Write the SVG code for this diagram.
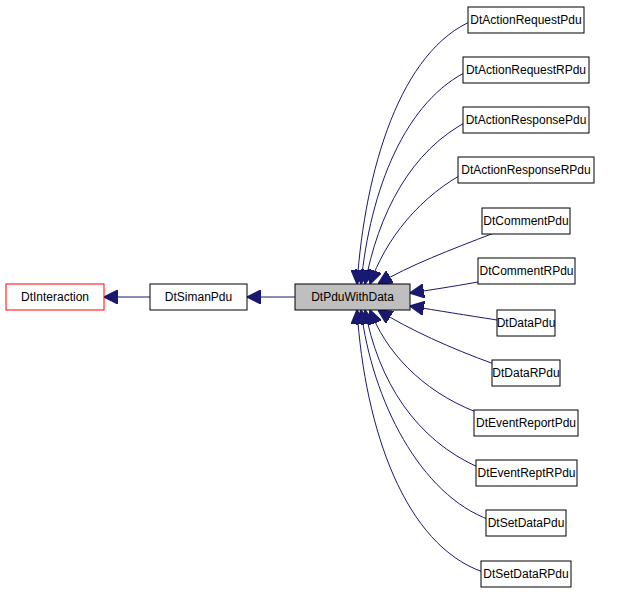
<svg xmlns="http://www.w3.org/2000/svg" width="629" height="595" viewBox="0 0 629 595">
<defs>
<style>
.n rect{fill:#fff;stroke:#000;stroke-width:1}
text{font-family:"Liberation Sans",Arial,sans-serif;font-size:12px;text-anchor:middle}
.e path{fill:none;stroke:#191970;stroke-width:1}
</style>
<marker id="a" viewBox="0 0 10 10" refX="10" refY="5" markerWidth="14" markerHeight="14" markerUnits="userSpaceOnUse" orient="auto"><path d="M0,0L10,5L0,10z" fill="#191970" stroke="#191970"/></marker>
</defs>
<rect width="629" height="595" fill="#fff"/>
<g class="e" marker-end="url(#a)">
<path d="M150,297H104" marker-end="url(#a)"/>
<path d="M295,297H247" marker-end="url(#a)"/>
<path d="M474,20C400,50 365,170 357,284" marker-end="url(#a)"/>
<path d="M470,70C405,100 370,190 361,284" marker-end="url(#a)"/>
<path d="M470,120C410,150 378,215 365,284" marker-end="url(#a)"/>
<path d="M470,170C420,195 385,240 370,284" marker-end="url(#a)"/>
<path d="M494,233C450,250 410,265 378,284" marker-end="url(#a)"/>
<path d="M478,282C450,287 430,290 410,293" marker-end="url(#a)"/>
<path d="M497,320C465,315 440,311 410,306" marker-end="url(#a)"/>
<path d="M494,364C450,348 410,330 378,310" marker-end="url(#a)"/>
<path d="M476,412C420,390 385,350 370,310" marker-end="url(#a)"/>
<path d="M480,468C415,440 378,380 365,310" marker-end="url(#a)"/>
<path d="M490,520C420,495 372,400 361,310" marker-end="url(#a)"/>
<path d="M483,572C405,545 365,430 357,310" marker-end="url(#a)"/>
</g>
<g id="DtInteraction" class="n"><rect x="6" y="284" width="98" height="26" style="stroke:#f00"/><text x="55" y="301">DtInteraction</text></g>
<g id="DtSimanPdu" class="n"><rect x="150" y="284" width="97" height="26"/><text x="198.5" y="301">DtSimanPdu</text></g>
<g id="DtPduWithData" class="n"><rect x="295" y="284" width="115" height="26" style="fill:#bfbfbf"/><text x="352.5" y="301">DtPduWithData</text></g>
<g id="DtActionRequestPdu" class="n"><rect x="468" y="7" width="116" height="26"/><text x="526" y="24">DtActionRequestPdu</text></g>
<g id="DtActionRequestRPdu" class="n"><rect x="463" y="57" width="126" height="26"/><text x="526" y="74">DtActionRequestRPdu</text></g>
<g id="DtActionResponsePdu" class="n"><rect x="463" y="107" width="126" height="26"/><text x="526" y="124">DtActionResponsePdu</text></g>
<g id="DtActionResponseRPdu" class="n"><rect x="458" y="157" width="136" height="26"/><text x="526" y="174">DtActionResponseRPdu</text></g>
<g id="DtCommentPdu" class="n"><rect x="482" y="208" width="88" height="26"/><text x="526" y="225">DtCommentPdu</text></g>
<g id="DtCommentRPdu" class="n"><rect x="478" y="258" width="97" height="26"/><text x="526.5" y="275">DtCommentRPdu</text></g>
<g id="DtDataPdu" class="n"><rect x="497" y="310" width="58" height="26"/><text x="526" y="327">DtDataPdu</text></g>
<g id="DtDataRPdu" class="n"><rect x="492" y="360" width="68" height="26"/><text x="526" y="377">DtDataRPdu</text></g>
<g id="DtEventReportPdu" class="n"><rect x="474" y="410" width="104" height="26"/><text x="526" y="427">DtEventReportPdu</text></g>
<g id="DtEventReptRPdu" class="n"><rect x="476" y="460" width="101" height="26"/><text x="526.5" y="477">DtEventReptRPdu</text></g>
<g id="DtSetDataPdu" class="n"><rect x="486" y="510" width="80" height="26"/><text x="526" y="527">DtSetDataPdu</text></g>
<g id="DtSetDataRPdu" class="n"><rect x="481" y="561" width="90" height="26"/><text x="526" y="578">DtSetDataRPdu</text></g>
</svg>
